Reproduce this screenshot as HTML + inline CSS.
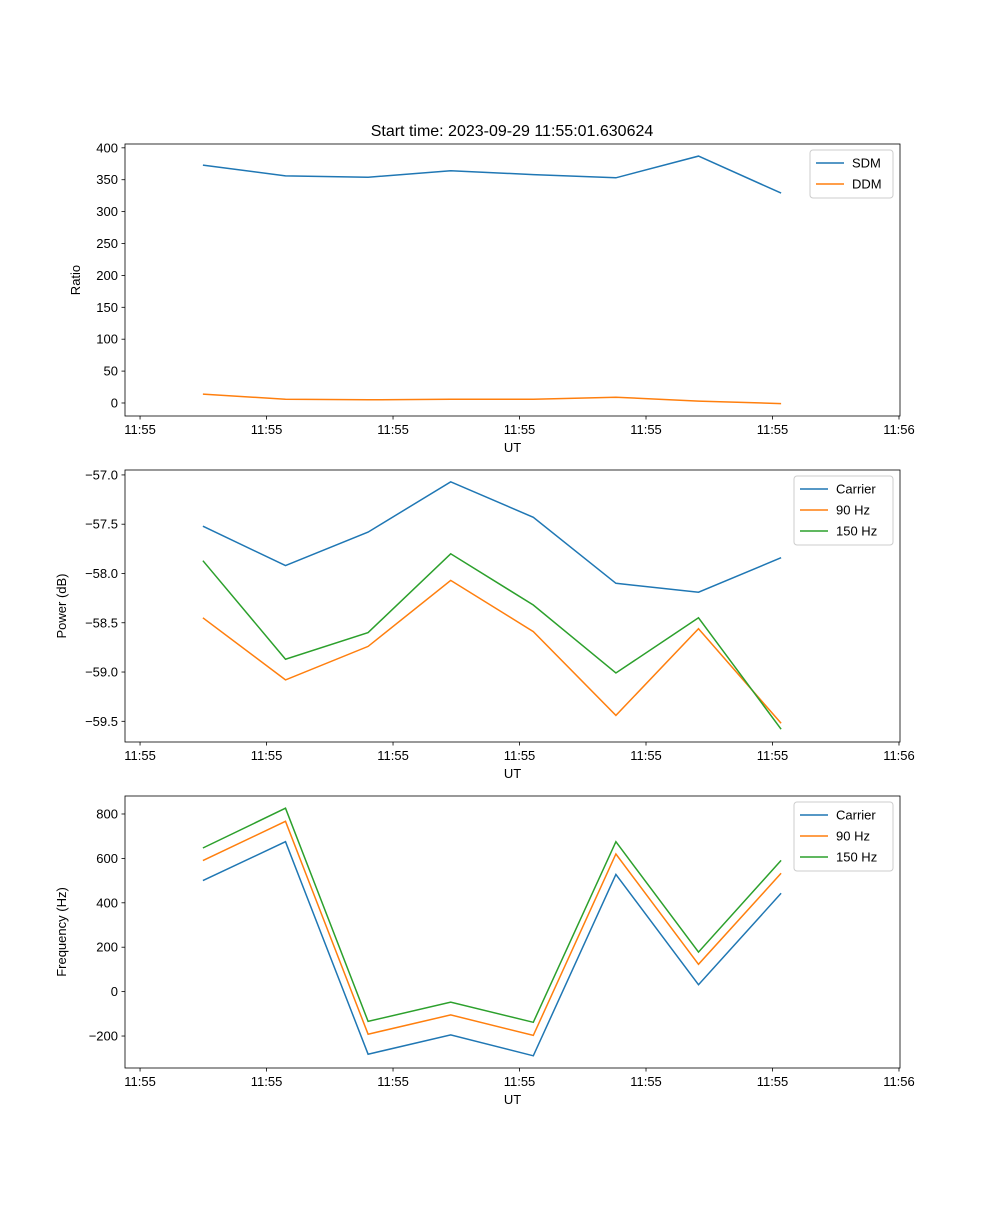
<!DOCTYPE html>
<html><head><meta charset="utf-8"><style>
body{margin:0;background:#fff;}
svg text{font-family:"Liberation Sans","DejaVu Sans",sans-serif;fill:#000;}
</style></head><body>
<svg id="fig" width="1000" height="1200" xmlns="http://www.w3.org/2000/svg"></svg>
<script>
const times = [4.97, 11.50, 18.03, 24.56, 31.09, 37.62, 44.15, 50.68];
const xTickSecs = [0, 10, 20, 30, 40, 50, 60];
const xTickLabels = ["11:55","11:55","11:55","11:55","11:55","11:55","11:56"];
const sdm = [373, 356, 354, 364, 358, 353, 387, 329];
const ddm = [14, 6, 5, 6, 6, 9, 3, -1];
const pCarrier = [-57.52, -57.92, -57.58, -57.07, -57.43, -58.10, -58.19, -57.84];
const p90 = [-58.45, -59.08, -58.74, -58.07, -58.59, -59.44, -58.56, -59.52];
const p150 = [-57.87, -58.87, -58.60, -57.80, -58.32, -59.01, -58.45, -59.58];
const fCarrier = [500, 675, -282, -195, -289, 528, 31, 443];
const f90 = [590, 767, -192, -105, -197, 620, 123, 533];
const f150 = [647, 826, -134, -47, -138, 675, 178, 591];
const ticks1 = [0,50,100,150,200,250,300,350,400];
const ticks2 = [-59.5,-59.0,-58.5,-58.0,-57.5,-57.0];
const ticks3 = [-200,0,200,400,600,800];

const NS="http://www.w3.org/2000/svg";
const svg=document.getElementById('fig');
function mk(tag,attrs,parent){const e=document.createElementNS(NS,tag);for(const k in attrs)e.setAttribute(k,attrs[k]);(parent||svg).appendChild(e);return e;}
const X0=125,X1=900,T0=-1.19,T1=60.08;
function xs(t){return X0+(t-T0)/(T1-T0)*(X1-X0);}
const C=['#1f77b4','#ff7f0e','#2ca02c'];

function panel(name,top,bot,ymin,ymax,ticks,fmt,ylabel,series,labels,legX,legW){
  const g=mk('g',{});
  
  
  const ys=v=>bot-(v-ymin)/(ymax-ymin)*(bot-top);
  ticks.forEach(v=>{
    const y=ys(v);
    mk('line',{x1:X0-3.5,x2:X0,y1:y,y2:y,stroke:'#000','stroke-width':0.8},g);
    const t=mk('text',{x:X0-7,y:y+4.5,'text-anchor':'end','font-size':13},g);
    t.textContent=fmt(v);
    
    
  });
  xTickSecs.forEach((s,i)=>{
    const x=xs(s);
    mk('line',{x1:x,x2:x,y1:bot,y2:bot+3.5,stroke:'#000','stroke-width':0.8},g);
    const t=mk('text',{x:x,y:bot+18,'text-anchor':'middle','font-size':13},g);
    t.textContent=xTickLabels[i];
    
    
  });
  series.forEach((arr,k)=>{
    const pts=arr.map((v,i)=>xs(times[i]).toFixed(1)+','+ys(v).toFixed(1)).join(' ');
    const p=mk('polyline',{points:pts,fill:'none',stroke:C[k],'stroke-width':1.5},g);
    
    
  });
  mk('rect',{x:X0,y:top,width:X1-X0,height:bot-top,fill:'none',stroke:'#000','stroke-width':0.8},g);
  const xl=mk('text',{x:(X0+X1)/2,y:bot+36,'text-anchor':'middle','font-size':13},g);
  xl.textContent='UT';
  
  
  const cy=(top+bot)/2, lx=name==='ratio-panel'?80:66;
  const yl=mk('text',{x:lx,y:cy,'text-anchor':'middle','font-size':13,transform:`rotate(-90 ${lx} ${cy})`},g);
  yl.textContent=ylabel;
  
  
  const lg=mk('g',{},g);
  
  
  const lh=labels.length*21+6;
  mk('rect',{x:legX,y:top+6,width:legW,height:lh,rx:3,fill:'#fff','fill-opacity':0.8,stroke:'#ccc','stroke-width':1},lg);
  labels.forEach((lab,k)=>{
    const y=top+19+k*21;
    mk('line',{x1:legX+6,x2:legX+34,y1:y,y2:y,stroke:C[k],'stroke-width':1.5},lg);
    const t=mk('text',{x:legX+42,y:y+4.5,'font-size':13},lg);
    t.textContent=lab;
    
    
  });
}
const title=mk('text',{x:512,y:136,'text-anchor':'middle','font-size':16});
title.textContent='Start time: 2023-09-29 11:55:01.630624';


panel('ratio-panel',144,416,-20.4,406,ticks1,v=>String(v),'Ratio',[sdm,ddm],['SDM','DDM'],810,83);
panel('power-panel',470,742,-59.71,-56.95,ticks2,v=>'\u2212'+Math.abs(v).toFixed(1),'Power (dB)',[pCarrier,p90,p150],['Carrier','90 Hz','150 Hz'],794,99);
panel('frequency-panel',796,1068,-344,881,ticks3,v=>v<0?'\u2212'+Math.abs(v):String(v),'Frequency (Hz)',[fCarrier,f90,f150],['Carrier','90 Hz','150 Hz'],794,99);
</script>
</body></html>
